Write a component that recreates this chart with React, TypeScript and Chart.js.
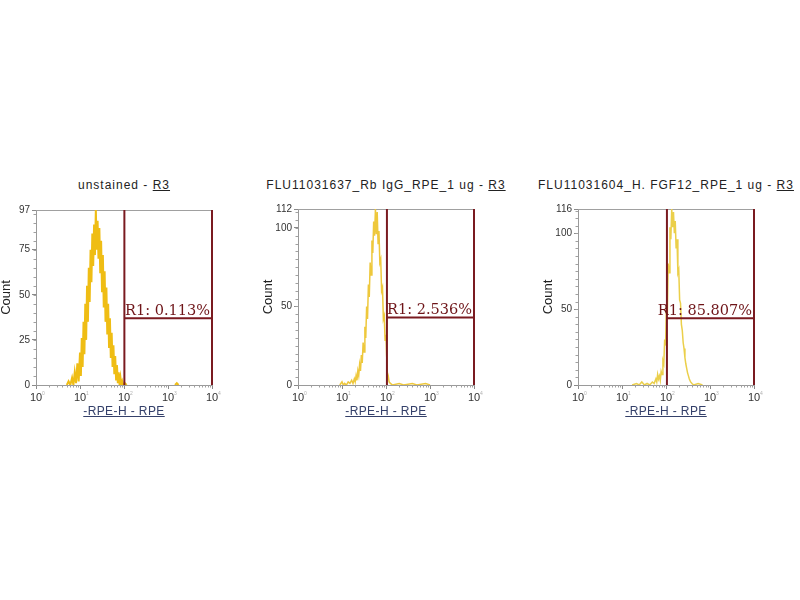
import React, { useEffect, useRef } from "react";
import { Chart, registerables } from "chart.js";

Chart.register(...registerables);
Chart.defaults.font.family = '"Liberation Sans", Arial, sans-serif';

// ---- shared axis data ----
const X_DECADES = [1, 10, 100, 1000, 10000];
const X_EXPONENTS = ["0", "1", "2", "3", "4"];
const X_MINOR_STEPS = [2, 3, 4, 5, 6, 7, 8, 9];
const X_TITLE = "-RPE-H - RPE";
const Y_TITLE = "Count";
const REGION_NAME = "R3";
const X_MAX = 10000;

// ---- panel 1: unstained ----
const P1_TITLE = "unstained";
const P1_Y_MAX = 97;
const P1_Y_TICKS = [0, 25, 50, 75, 97];
const P1_LOG_X = [
  0.70, 0.74, 0.78, 0.82, 0.85, 0.88, 0.91, 0.94, 0.97, 1.00,
  1.02, 1.04, 1.06, 1.08, 1.10, 1.12, 1.14, 1.16, 1.18, 1.20,
  1.22, 1.24, 1.26, 1.28, 1.30, 1.32, 1.34, 1.36, 1.38, 1.40,
  1.42, 1.44, 1.46, 1.48, 1.50, 1.52, 1.54, 1.56, 1.58, 1.60,
  1.62, 1.64, 1.66, 1.68, 1.70, 1.72, 1.74, 1.76, 1.78, 1.80,
  1.82, 1.84, 1.86, 1.88, 1.90, 1.92, 1.94, 1.96, 1.98, 2.02,
  2.06, 2.60, 3.16, 3.20, 3.24,
];
const P1_COUNT = [
  0, 2, 0, 4, 0, 7, 1, 12, 2, 18,
  5, 26, 10, 35, 17, 45, 25, 55, 35, 65,
  46, 75, 57, 84, 66, 89, 72, 97, 75, 91,
  70, 87, 62, 80, 52, 72, 43, 63, 35, 54,
  28, 45, 21, 37, 15, 29, 10, 22, 6, 16,
  3, 11, 1, 7, 0, 4, 0, 2, 0, 1,
  0, null, 0, 1, 0,
];
const P1_GATE_X = 102;
const P1_GATE_LEVEL = 37;
const P1_GATE_LABEL = "R1: 0.113%";

// ---- panel 2: Rb IgG ----
const P2_TITLE = "FLU11031637_Rb IgG_RPE_1 ug";
const P2_Y_MAX = 112;
const P2_Y_TICKS = [0, 50, 100, 112];
const P2_LOG_X = [
  0.95, 1.00, 1.03, 1.06, 1.10, 1.14, 1.18, 1.22, 1.25, 1.28,
  1.30, 1.32, 1.34, 1.36, 1.38, 1.40, 1.42, 1.44, 1.46, 1.48,
  1.50, 1.52, 1.54, 1.56, 1.58, 1.60, 1.62, 1.64, 1.66, 1.68,
  1.70, 1.72, 1.74, 1.76, 1.78, 1.80, 1.82, 1.84, 1.86, 1.88,
  1.90, 1.92, 1.94, 1.96, 1.98, 2.00, 2.01, 2.02, 2.03, 2.05,
  2.07, 2.10, 2.15, 2.30, 2.40, 2.60, 2.70, 2.90, 3.00,
];
const P2_COUNT = [
  0, 2, 0, 1, 0, 2, 1, 3, 1, 4,
  2, 6, 3, 9, 6, 13, 9, 19, 14, 27,
  21, 37, 30, 50, 42, 64, 56, 78, 70, 92,
  84, 104, 95, 112, 96, 110, 90, 98, 78, 80,
  60, 62, 42, 44, 28, 32, 18, 22, 8, 6,
  2, 1, 0, 1, 0, 1, 0, 1, 0,
];
const P2_GATE_X = 105;
const P2_GATE_LEVEL = 43;
const P2_GATE_LABEL = "R1: 2.536%";

// ---- panel 3: H. FGF12 ----
const P3_TITLE = "FLU11031604_H. FGF12_RPE_1 ug";
const P3_Y_MAX = 116;
const P3_Y_TICKS = [0, 50, 100, 116];
const P3_LOG_X = [
  1.23, 1.33, 1.39, 1.45, 1.51, 1.57, 1.63, 1.69, 1.73, 1.77,
  1.79, 1.81, 1.83, 1.85, 1.87, 1.89, 1.91, 1.93, 1.95, 1.97,
  1.99, 2.01, 2.03, 2.05, 2.07, 2.09, 2.11, 2.13, 2.15, 2.17,
  2.19, 2.21, 2.23, 2.25, 2.27, 2.29, 2.31, 2.33, 2.35, 2.37,
  2.39, 2.41, 2.43, 2.45, 2.47, 2.49, 2.51, 2.53, 2.56, 2.59,
  2.63, 2.73, 2.83,
];
const P3_COUNT = [
  0, 1, 0, 2, 0, 1, 0, 2, 1, 4,
  2, 7, 4, 6, 3, 9, 7, 16, 14, 30,
  26, 52, 46, 80, 74, 104, 96, 116, 104, 114,
  100, 108, 90, 96, 74, 76, 56, 54, 40, 36,
  28, 24, 18, 14, 11, 8, 6, 4, 2, 1,
  0, 1, 0,
];
const P3_GATE_X = 105;
const P3_GATE_LEVEL = 44;
const P3_GATE_LABEL = "R1: 85.807%";

// ---- layout ----
const CANVAS_TOP = 198;
const Y_AXIS_W = 40;
const PLOT_W = 176;
const PAD_RIGHT = 14;
const PLOT_BOTTOM = 385;
const CANVAS_H = 222;

const GATE_COLOR = "#7a1a20";

type PanelProps = {
  plotLeft: number;
  plotTop: number;
  title: string;
  yMax: number;
  yTicks: number[];
  logX: number[];
  counts: (number | null)[];
  gateX: number;
  gateLevel: number;
  gateLabel: string;
  lineColor: string;
  lineWidth: number;
};

function Panel(p: PanelProps) {
  const ref = useRef<HTMLCanvasElement>(null);
  const canvasLeft = p.plotLeft - Y_AXIS_W;
  const canvasW = Y_AXIS_W + PLOT_W + PAD_RIGHT;
  const xAxisH = CANVAS_H - (PLOT_BOTTOM - CANVAS_TOP);

  useEffect(() => {
    if (!ref.current) return;
    const points = p.logX.map((lg, i) => ({ x: Math.pow(10, lg), y: p.counts[i] }));
    const gateStyle = {
      borderColor: GATE_COLOR,
      borderWidth: 2,
      pointRadius: 0,
      clip: false as any,
    };
    const decor = {
      id: "decor",
      beforeDatasetsDraw(chart: any) {
        const { ctx, chartArea: ca, scales } = chart;
        const xs = scales.x;
        const ys = scales.y;
        ctx.save();
        ctx.strokeStyle = "#a0a0a0";
        ctx.lineWidth = 1;
        ctx.beginPath();
        ctx.moveTo(ca.left, Math.round(ca.top) + 0.5);
        ctx.lineTo(ca.right, Math.round(ca.top) + 0.5);
        for (let v = 5; v < p.yMax; v += 5) {
          const py = Math.round(ys.getPixelForValue(v)) + 0.5;
          ctx.moveTo(ca.left - 2.5, py);
          ctx.lineTo(ca.left, py);
        }
        X_DECADES.slice(0, -1).forEach((d) => {
          X_MINOR_STEPS.forEach((m) => {
            const px = Math.round(xs.getPixelForValue(d * m)) + 0.5;
            ctx.moveTo(px, ca.bottom);
            ctx.lineTo(px, ca.bottom + 2.5);
          });
        });
        ctx.stroke();
        ctx.restore();
      },
      afterDraw(chart: any) {
        const { ctx, chartArea: ca, scales } = chart;
        const xs = scales.x;
        const ys = scales.y;
        ctx.save();
        // tiny decade exponents
        ctx.font = '5px "Liberation Sans", Arial, sans-serif';
        ctx.fillStyle = "#b0b0b0";
        ctx.textAlign = "left";
        ctx.textBaseline = "top";
        X_DECADES.forEach((d, i) => {
          const px = xs.getPixelForValue(d);
          ctx.fillText(X_EXPONENTS[i], px + 6, ca.bottom + 6);
        });
        // gate label
        ctx.font = '14.5px "DejaVu Serif", serif';
        ctx.fillStyle = "#6e1418";
        ctx.textAlign = "right";
        ctx.textBaseline = "alphabetic";
        ctx.fillText(p.gateLabel, xs.getPixelForValue(X_MAX) - 2, ys.getPixelForValue(p.gateLevel) - 3);
        ctx.restore();
      },
    };

    const chart = new Chart(ref.current, {
      type: "line",
      data: {
        datasets: [
          { data: [{ x: p.gateX, y: 0 }, { x: p.gateX, y: p.yMax }], ...gateStyle },
          { data: [{ x: X_MAX, y: 0 }, { x: X_MAX, y: p.yMax }], ...gateStyle },
          { data: [{ x: p.gateX, y: p.gateLevel }, { x: X_MAX, y: p.gateLevel }], ...gateStyle },
          {
            data: points as any,
            borderColor: p.lineColor,
            borderWidth: p.lineWidth,
            pointRadius: 0,
            spanGaps: false,
            tension: 0,
          },
        ],
      },
      options: {
        animation: false,
        responsive: false,
        maintainAspectRatio: false,
        layout: { padding: { top: p.plotTop - CANVAS_TOP, right: PAD_RIGHT, left: 0, bottom: 0 } },
        plugins: { legend: { display: false }, tooltip: { enabled: false }, title: { display: false } },
        scales: {
          x: {
            type: "logarithmic",
            min: 1,
            max: X_MAX,
            afterBuildTicks: (s: any) => {
              s.ticks = X_DECADES.map((v) => ({ value: v }));
            },
            afterFit: (s: any) => {
              s.height = xAxisH;
            },
            ticks: {
              callback: () => "10",
              font: { size: 11 },
              color: "#333",
              padding: 2,
              autoSkip: false,
              maxRotation: 0,
              minRotation: 0,
            },
            grid: { display: true, drawOnChartArea: false, drawTicks: true, tickLength: 4, color: "#8a8a8a" },
            border: { display: true, color: "#9a9a9a" },
          },
          y: {
            type: "linear",
            min: 0,
            max: p.yMax,
            afterBuildTicks: (s: any) => {
              s.ticks = p.yTicks.map((v) => ({ value: v }));
            },
            afterFit: (s: any) => {
              s.width = Y_AXIS_W;
            },
            ticks: {
              callback: (v: any) => String(v),
              font: { size: 10 },
              color: "#333",
              padding: 2,
              autoSkip: false,
            },
            grid: { display: true, drawOnChartArea: false, drawTicks: true, tickLength: 4, color: "#8a8a8a" },
            border: { display: true, color: "#9a9a9a" },
            title: { display: true, text: Y_TITLE, color: "#222", font: { size: 13 }, padding: { top: 3, bottom: 0 } },
          },
        },
      },
      plugins: [decor],
    });
    return () => chart.destroy();
  }, []);

  const center = p.plotLeft + PLOT_W / 2;
  return (
    <>
      <canvas
        ref={ref}
        width={canvasW}
        height={CANVAS_H}
        style={{ position: "absolute", left: canvasLeft, top: CANVAS_TOP, width: canvasW, height: CANVAS_H }}
      />
      <div
        style={{
          position: "absolute",
          left: center - 200,
          width: 400,
          top: 178,
          textAlign: "center",
          font: '12px "Liberation Sans", Arial, sans-serif',
          letterSpacing: "1px",
          color: "#222",
          whiteSpace: "nowrap",
          lineHeight: "14px",
        }}
      >
        {p.title} - <span style={{ textDecoration: "underline" }}>{REGION_NAME}</span>
      </div>
      <div
        style={{
          position: "absolute",
          left: center - 100,
          width: 200,
          top: 404,
          textAlign: "center",
          font: '12px "Liberation Sans", Arial, sans-serif',
          letterSpacing: "0.4px",
          color: "#34406a",
          whiteSpace: "nowrap",
          lineHeight: "14px",
          textDecoration: "underline",
        }}
      >
        {X_TITLE}
      </div>
    </>
  );
}

export default function App() {
  return (
    <div style={{ position: "absolute", left: 0, top: 0, width: 800, height: 600, background: "#fff", overflow: "hidden" }}>
      <Panel
        plotLeft={36}
        plotTop={210}
        title={P1_TITLE}
        yMax={P1_Y_MAX}
        yTicks={P1_Y_TICKS}
        logX={P1_LOG_X}
        counts={P1_COUNT}
        gateX={P1_GATE_X}
        gateLevel={P1_GATE_LEVEL}
        gateLabel={P1_GATE_LABEL}
        lineColor="#efbd14"
        lineWidth={2}
      />
      <Panel
        plotLeft={298}
        plotTop={209}
        title={P2_TITLE}
        yMax={P2_Y_MAX}
        yTicks={P2_Y_TICKS}
        logX={P2_LOG_X}
        counts={P2_COUNT}
        gateX={P2_GATE_X}
        gateLevel={P2_GATE_LEVEL}
        gateLabel={P2_GATE_LABEL}
        lineColor="#eec83c"
        lineWidth={1.5}
      />
      <Panel
        plotLeft={578}
        plotTop={209}
        title={P3_TITLE}
        yMax={P3_Y_MAX}
        yTicks={P3_Y_TICKS}
        logX={P3_LOG_X}
        counts={P3_COUNT}
        gateX={P3_GATE_X}
        gateLevel={P3_GATE_LEVEL}
        gateLabel={P3_GATE_LABEL}
        lineColor="#ebcf4a"
        lineWidth={1.5}
      />
    </div>
  );
}
